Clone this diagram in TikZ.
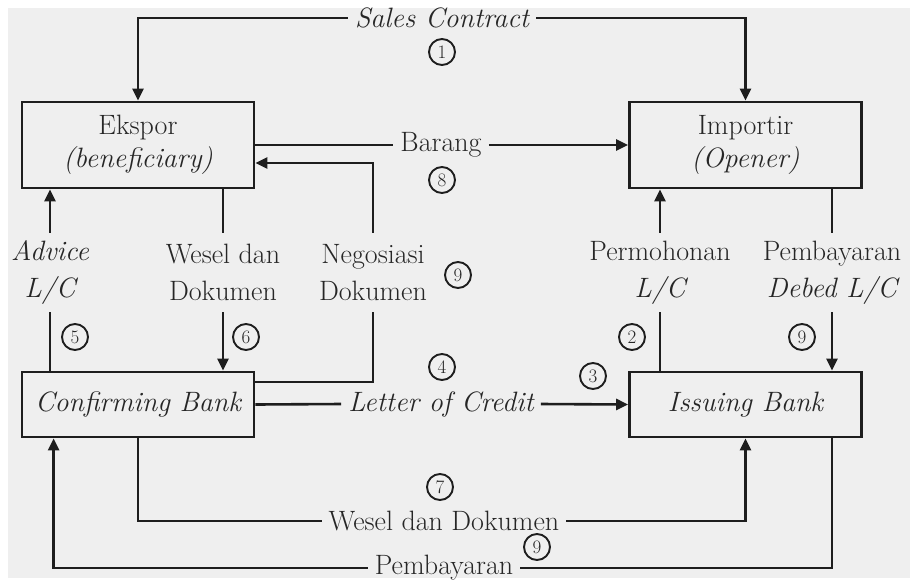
\documentclass[tikz,border=0pt]{standalone}
\usetikzlibrary{arrows.meta}
\definecolor{bg}{HTML}{EFEFEF}
\definecolor{ink}{HTML}{1E1E1E}
\definecolor{txt}{HTML}{262626}
\newcommand\fsmain{\fontsize{28}{37}\selectfont}
\begin{document}
\begin{tikzpicture}[x=1pt,y=-1pt,
  every node/.style={font=\fsmain,text=txt},
  box/.style={draw=ink,line width=2.8pt,fill=bg,minimum width=232pt,inner sep=0pt,align=center,font=\fontsize{28}{33}\selectfont},
  lbl/.style={inner xsep=7pt,inner ysep=0pt},
  two/.style={align=center,minimum height=79pt,inner sep=0pt},
  num/.style={circle,draw=ink,line width=1.9pt,minimum size=26pt,inner sep=0pt,font=\fontsize{19}{19}\selectfont},
  ln/.style={draw=ink,line width=2.6pt},
  arr/.style={ln,-{Triangle[length=12pt,width=11pt]}}
]
\useasboundingbox (0,0) rectangle (910,579);
\fill[white] (0,0) rectangle (910,579);
\fill[bg] (8,8) rectangle (910,578);

% boxes
\node[box,minimum height=86pt] (eks) at (138,145) {Ekspor\\\itshape (beneficiary)};
\node[box,minimum height=86pt] (imp) at (745.5,145) {Importir\\\itshape (Opener)};
\node[box,minimum height=65pt] (cb) at (138,404.5) {\itshape Confirming Bank};
\node[box,minimum height=65pt] (ib) at (745.5,404.5) {\itshape Issuing Bank};

% horizontal labels
\node[lbl] (sc) at (442,18) {\itshape Sales Contract};
\node[lbl] (bar) at (441,145) {Barang};
\node[lbl] (loc) at (441,404) {\itshape Letter of Credit};
\node[lbl] (wd) at (444,521) {Wesel dan Dokumen};
\node[lbl] (pbb) at (444,568) {Pembayaran};

% vertical labels
\node[two] (adv) at (50,272.5) {\itshape Advice\\\itshape L/C};
\node[two] (wl) at (223,272.5) {Wesel dan\\Dokumen};
\node[two] (neg) at (373,272.5) {Negosiasi\\Dokumen};
\node[two] (pm) at (660,272.5) {Permohonan\\\itshape L/C};
\node[two] (pb) at (832,272.5) {Pembayaran\\\itshape Debed L/C};

\coordinate (n1) at (373,382);
\coordinate (n2) at (373,163);

% connectors
\draw[arr] (sc.west) -| (eks.north);
\draw[arr] (sc.east) -| (imp.north);
\draw[ln] (eks.east) -- (bar.west);
\draw[arr] (bar.east) -- (imp.west);
\draw[ln] (cb.east) -- (loc.west);
\draw[arr] (loc.east) -- (ib.west);

\draw[ln] (neg.south) -- (n1) -- (cb.east |- n1);
\draw[arr] (neg.north) -- (n2) -- (eks.east |- n2);

\draw[arr] (adv.north) -- (adv.north |- eks.south);
\draw[ln] (adv.south) -- (adv.south |- cb.north);
\draw[ln] (wl.north |- eks.south) -- (wl.north);
\draw[arr] (wl.south) -- (wl.south |- cb.north);
\draw[arr] (pm.north) -- (pm.north |- imp.south);
\draw[ln] (pm.south) -- (pm.south |- ib.north);
\draw[ln] (pb.north |- imp.south) -- (pb.north);
\draw[arr] (pb.south) -- (pb.south |- ib.north);

\draw[ln] (cb.south) |- (wd.west);
\draw[arr] (wd.east) -| (ib.south);
\draw[ln] (pb.south |- ib.south) |- (pbb.east);
\draw[arr] (pbb.west) -| ([xshift=33pt]cb.south west);

% numbers
\node[num] (c1) at (442,52) {1};
\node[num] (c8) at (442,180) {8};
\node[num] (c9a) at (458,275) {9};
\node[num] (c4) at (442,367) {4};
\node[num] (c3) at (593,376) {3};
\node[num] (c5) at (75,337) {5};
\node[num] (c6) at (246,337) {6};
\node[num] (c2) at (632,337) {2};
\node[num] (c9b) at (802,337) {9};
\node[num] (c7) at (440,487) {7};
\node[num] (c9c) at (537,547) {9};
\end{tikzpicture}
\end{document}
